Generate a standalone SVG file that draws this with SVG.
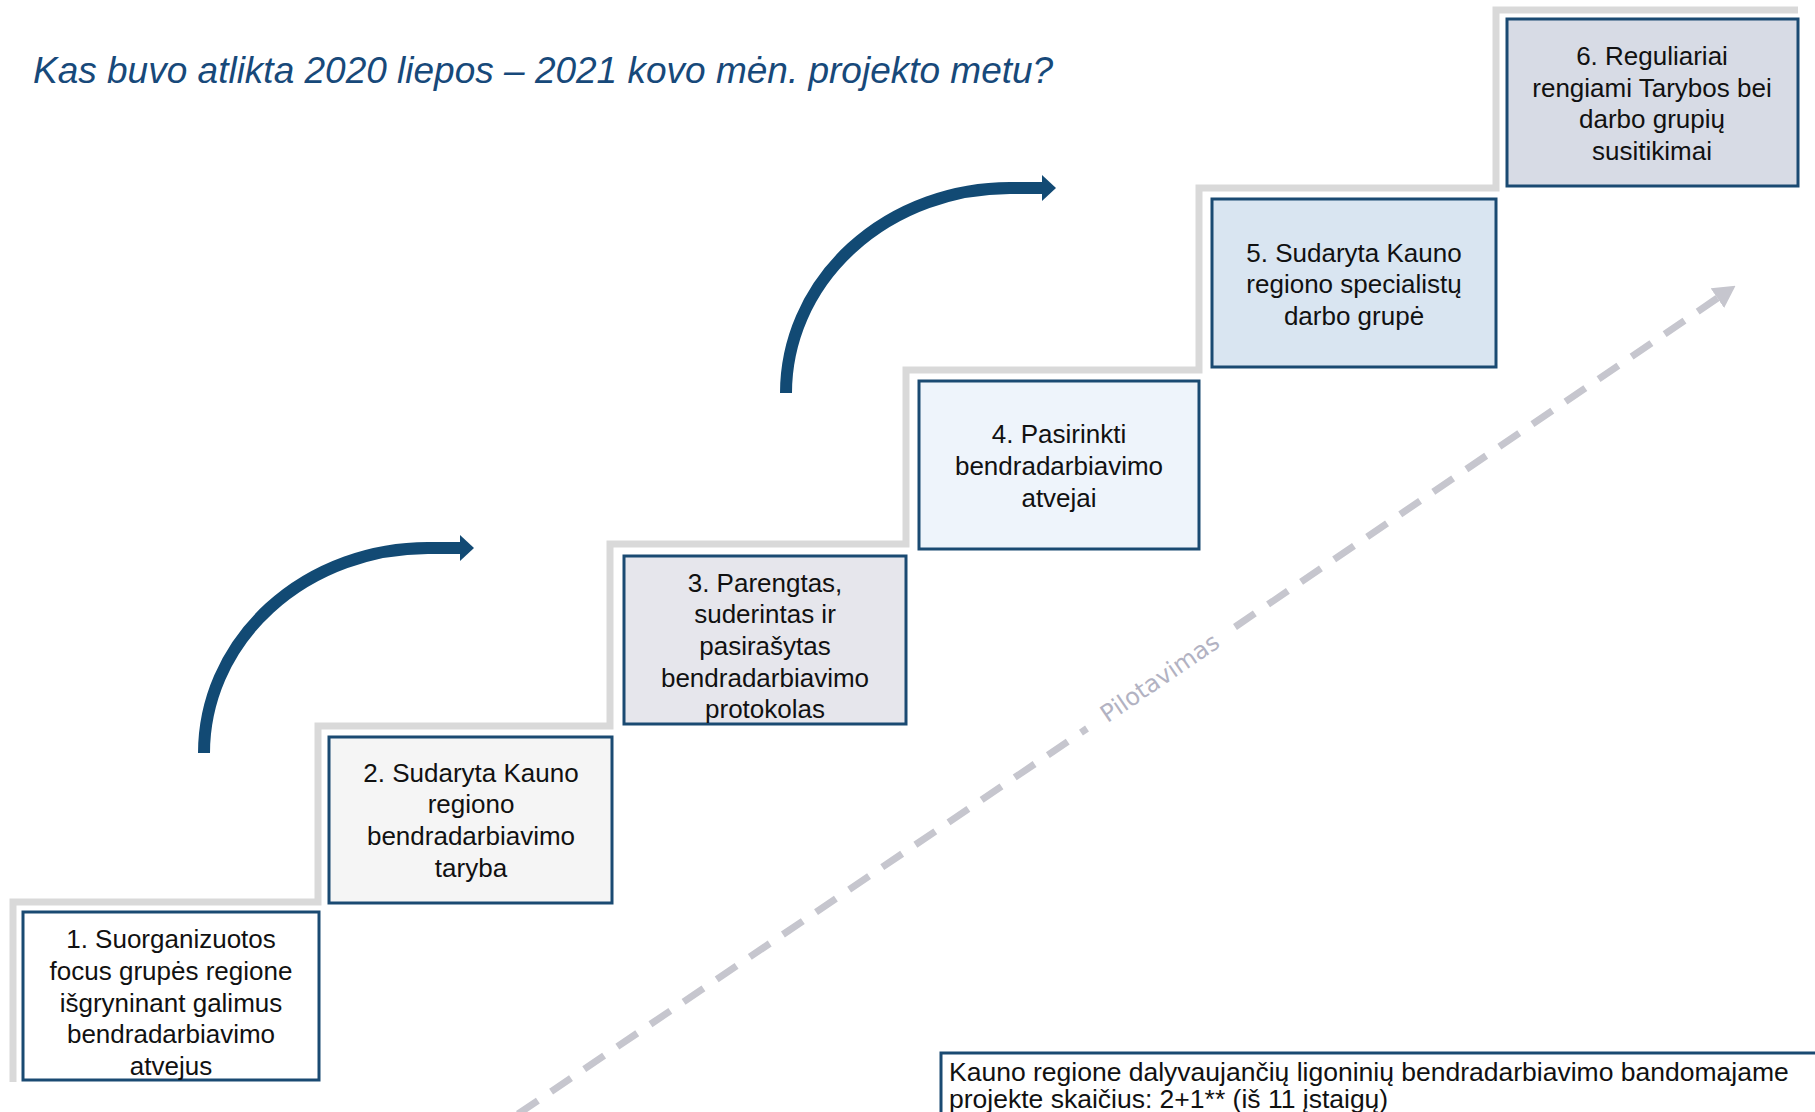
<svg xmlns="http://www.w3.org/2000/svg" width="1815" height="1112" viewBox="0 0 1815 1112">
  <defs>
    <style>
      .stair { fill: none; stroke: #D9D9D9; stroke-width: 7; }
      .box { stroke: #1A4A72; stroke-width: 3; }
      .lbl { font-family: "Liberation Sans", Arial, sans-serif; font-size: 26px; fill: #111111; text-anchor: middle; }
      .title { font-family: "Liberation Sans", Arial, sans-serif; font-size: 37px; font-style: italic; fill: #17497A; }
      .note { font-family: "Liberation Sans", Arial, sans-serif; font-size: 26.5px; fill: #111111; }
      .curve { fill: none; stroke: #124A74; stroke-width: 12; }
      .dash { fill: none; stroke: #C6C6CE; stroke-width: 7; stroke-dasharray: 24 16; }
      .pilot { font-family: "DejaVu Sans", Verdana, sans-serif; font-size: 24px; fill: #B2B2C2; }
    </style>
    <marker id="blueHead" markerUnits="userSpaceOnUse" markerWidth="14" markerHeight="26" viewBox="0 0 14 26" refX="0" refY="13" orient="auto">
      <path d="M0,0 L14,13 L0,26 Z" fill="#124A74"/>
    </marker>
    <marker id="greyHead" markerUnits="userSpaceOnUse" markerWidth="22" markerHeight="24" viewBox="0 0 22 24" refX="2" refY="12" orient="auto">
      <path d="M0,0 L22,12 L0,24 Z" fill="#C6C6CE"/>
    </marker>
  </defs>

  <rect width="1815" height="1112" fill="#FFFFFF"/>

  <g id="title">
    <text class="title" x="33" y="83">Kas buvo atlikta 2020 liepos – 2021 kovo mėn. projekto metu?</text>
  </g>

  <g id="staircase">
    <path class="stair" d="M13,1082 V902 H318 V726 H610 V544 H906 V370 H1199 V188 H1496 V10 H1798"/>
  </g>

  <g id="connectors">
    <path class="curve" d="M204,753 A224,205 0 0 1 428,548 L460,548" marker-end="url(#blueHead)"/>
    <path class="curve" d="M786,393 A224,205 0 0 1 1010,188 L1042,188" marker-end="url(#blueHead)"/>
    <path class="dash" d="M518,1114 L1087,728.5"/>
    <path class="dash" d="M1235,627 L1719,297" marker-end="url(#greyHead)"/>
    <text class="pilot" x="1160" y="678" text-anchor="middle" dominant-baseline="central" transform="rotate(-34.2 1160 678)">Pilotavimas</text>
  </g>

  <g id="node1">
    <rect class="box" x="23" y="912" width="296" height="168" fill="#FFFFFF"/>
    <text class="lbl" x="171" y="948">1. Suorganizuotos</text>
    <text class="lbl" x="171" y="980">focus grupės regione</text>
    <text class="lbl" x="171" y="1012">išgryninant galimus</text>
    <text class="lbl" x="171" y="1043">bendradarbiavimo</text>
    <text class="lbl" x="171" y="1075">atvejus</text>
  </g>

  <g id="node2">
    <rect class="box" x="329" y="737" width="283" height="166" fill="#F5F5F5"/>
    <text class="lbl" x="471" y="782">2. Sudaryta Kauno</text>
    <text class="lbl" x="471" y="813">regiono</text>
    <text class="lbl" x="471" y="845">bendradarbiavimo</text>
    <text class="lbl" x="471" y="877">taryba</text>
  </g>

  <g id="node3">
    <rect class="box" x="624" y="556" width="282" height="168" fill="#E6E6EC"/>
    <text class="lbl" x="765" y="592">3. Parengtas,</text>
    <text class="lbl" x="765" y="623">suderintas ir</text>
    <text class="lbl" x="765" y="655">pasirašytas</text>
    <text class="lbl" x="765" y="687">bendradarbiavimo</text>
    <text class="lbl" x="765" y="718">protokolas</text>
  </g>

  <g id="node4">
    <rect class="box" x="919" y="381" width="280" height="168" fill="#EEF4FB"/>
    <text class="lbl" x="1059" y="443">4. Pasirinkti</text>
    <text class="lbl" x="1059" y="475">bendradarbiavimo</text>
    <text class="lbl" x="1059" y="507">atvejai</text>
  </g>

  <g id="node5">
    <rect class="box" x="1212" y="199" width="284" height="168" fill="#D9E5F1"/>
    <text class="lbl" x="1354" y="262">5. Sudaryta Kauno</text>
    <text class="lbl" x="1354" y="293">regiono specialistų</text>
    <text class="lbl" x="1354" y="325">darbo grupė</text>
  </g>

  <g id="node6">
    <rect class="box" x="1507" y="19" width="291" height="167" fill="#D7DBE5"/>
    <text class="lbl" x="1652" y="65">6. Reguliariai</text>
    <text class="lbl" x="1652" y="97">rengiami Tarybos bei</text>
    <text class="lbl" x="1652" y="128">darbo grupių</text>
    <text class="lbl" x="1652" y="160">susitikimai</text>
  </g>

  <g id="note">
    <rect class="box" x="941" y="1053" width="900" height="100" fill="#FFFFFF"/>
    <text class="note" x="949" y="1081">Kauno regione dalyvaujančių ligoninių bendradarbiavimo bandomajame</text>
    <text class="note" x="949" y="1108">projekte skaičius: 2+1** (iš 11 įstaigų)</text>
  </g>
</svg>
